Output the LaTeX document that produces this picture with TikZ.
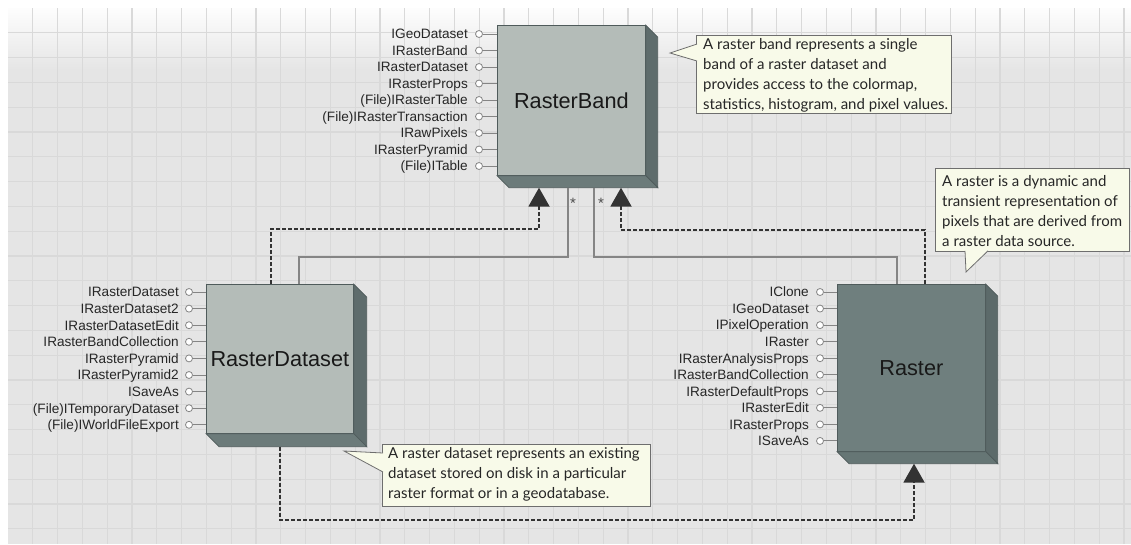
\documentclass[tikz,border=0pt]{standalone}
\usepackage{fontspec}
\setmainfont{Liberation Sans}
\newfontfamily\notefont{Lato}
\usetikzlibrary{arrows.meta,calc}

\definecolor{gridbg}{HTML}{E5E5E5}
\definecolor{gridln}{HTML}{D9D9D9}
\definecolor{lightface}{HTML}{B4BCB8}
\definecolor{lightside}{HTML}{5E6C6C}
\definecolor{lightbottom}{HTML}{6C7B7A}
\definecolor{darkface}{HTML}{6F7F7E}
\definecolor{darkside}{HTML}{5C6A6A}
\definecolor{darkbottom}{HTML}{667675}
\definecolor{boxedge}{HTML}{4F5B5B}
\definecolor{notefill}{HTML}{F8FAE9}
\definecolor{noteedge}{HTML}{6E6E6E}
\definecolor{wire}{HTML}{858585}
\definecolor{dashclr}{HTML}{333333}
\definecolor{ifacetext}{HTML}{262626}

% side and bottom faces that give a class box its depth
\newcommand{\castdepth}[4]{%
  \filldraw[fill=#2, draw=boxedge, line width=0.7pt]
    (#1.north east) -- ++(#4,#4) -- ($(#1.south east)+(#4,#4)$) -- (#1.south east) -- cycle;
  \filldraw[fill=#3, draw=boxedge, line width=0.7pt]
    (#1.south west) -- ++(#4,#4) -- ($(#1.south east)+(#4,#4)$) -- (#1.south east) -- cycle;
}

\tikzset{
  classbox/.style={draw=boxedge, line width=0.7pt, inner sep=0pt, anchor=north west,
    text=black!90, font=\fontsize{21.7}{26}\selectfont},
  ifacelabel/.style={anchor=east, inner sep=0pt, text height=9.6pt, text depth=0pt,
    text=ifacetext, font=\fontsize{13.6}{16}\selectfont},
  lolly/.style={circle, draw=wire, fill=white, line width=0.8pt, inner sep=0pt, minimum size=7pt},
  stub/.style={draw=wire, line width=1pt},
  assoc/.style={draw=wire, line width=1.2pt},
  realize/.style={draw=dashclr, line width=2pt, dash pattern=on 4pt off 2pt,
    -{Triangle[length=19pt,width=21pt]}},
  mult/.style={inner sep=0pt, text=black!70, font=\fontsize{15}{16}\selectfont},
  notebox/.style={draw=noteedge, fill=notefill, line width=0.8pt, inner sep=0pt, anchor=north west},
  notetext/.style={anchor=north west, inner sep=0pt, align=left, text=black!85,
    font=\notefont\fontsize{15}{20}\selectfont},
  pointer/.style={fill=notefill, draw=noteedge, line width=0.8pt},
}

\begin{document}
\begin{tikzpicture}[x=1pt, y=-1pt]
\useasboundingbox (0,0) rectangle (1131,544);

% backdrop with a fine grid
\fill[white] (0,0) rectangle (1131,544);
\fill[gridbg] (8,8) rectangle (1131,544);
\shade[top color=white!93!gridbg, bottom color=gridbg] (8,8) rectangle (1131,70);
\foreach \k in {1,...,45} {
  \draw[gridln, line width=1.3pt] ({8+24.8*\k},8) -- ({8+24.8*\k},544);
}
\foreach \k in {1,...,21} {
  \draw[gridln, line width=1.3pt] (8,{8+24.8*\k}) -- (1131,{8+24.8*\k});
}

% class boxes
\node[classbox, fill=lightface, minimum width=148pt, minimum height=150pt] (rb) at (497,25) {RasterBand};
\castdepth{rb}{lightside}{lightbottom}{12}
\node[classbox, fill=lightface, minimum width=147pt, minimum height=149pt] (rd) at (206,284) {RasterDataset};
\castdepth{rd}{lightside}{lightbottom}{13}
\node[classbox, fill=darkface, minimum width=148pt, minimum height=167pt] (ra) at (837,284) {Raster};
\castdepth{ra}{darkside}{darkbottom}{12}

% interfaces of RasterBand
\foreach \t [count=\i] in {IGeoDataset, IRasterBand, IRasterDataset, IRasterProps,
    (File)IRasterTable, (File)IRasterTransaction, IRawPixels, IRasterPyramid, (File)ITable} {
  \pgfmathsetmacro{\yy}{34+16.5*(\i-1)}
  \node[ifacelabel] (rbL\i) at (468,\yy) {\t};
  \node[lolly] (rbP\i) at (479,\yy) {};
  \draw[stub] (rbP\i.east) -- (rbP\i -| rb.west);
}

% interfaces of RasterDataset
\foreach \t [count=\i] in {IRasterDataset, IRasterDataset2, IRasterDatasetEdit,
    IRasterBandCollection, IRasterPyramid, IRasterPyramid2, ISaveAs,
    (File)ITemporaryDataset, (File)IWorldFileExport} {
  \pgfmathsetmacro{\yy}{292+16.6*(\i-1)}
  \node[ifacelabel] (rdL\i) at (179,\yy) {\t};
  \node[lolly] (rdP\i) at (189,\yy) {};
  \draw[stub] (rdP\i.east) -- (rdP\i -| rd.west);
}

% interfaces of Raster
\foreach \t [count=\i] in {IClone, IGeoDataset, IPixelOperation, IRaster,
    IRasterAnalysisProps, IRasterBandCollection, IRasterDefaultProps, IRasterEdit,
    IRasterProps, ISaveAs} {
  \pgfmathsetmacro{\yy}{292+16.55*(\i-1)}
  \node[ifacelabel] (raL\i) at (809,\yy) {\t};
  \node[lolly] (raP\i) at (820,\yy) {};
  \draw[stub] (raP\i.east) -- (raP\i -| ra.west);
}

% relationships
\draw[assoc] ($(rd.north west)+(93,0)$) -- ++(0,-27) -| ($(rb.south west)+(71,12)$);
\draw[assoc] ($(ra.north west)+(60,0)$) -- ++(0,-27) -| ($(rb.south west)+(97,12)$);
\node[mult] (m1) at ($(rb.south west)+(76,28)$) {*};
\node[mult] (m2) at ($(rb.south west)+(104,28)$) {*};
\draw[realize] ($(rd.north west)+(65,0)$) -- ++(0,-55) -| ($(rb.south west)+(42,12)$);
\draw[realize] ($(ra.north west)+(88,0)$) -- ++(0,-54) -| ($(rb.south west)+(124,12)$);
\draw[realize] ($(rd.south west)+(74,13)$) -- ++(0,73) -| ($(ra.south west)+(77,12)$);

% notes
\node[notebox, minimum width=255pt, minimum height=78pt] (n1) at (696,35) {};
\coordinate (n1tip) at (670,53);
\filldraw[pointer] ($(n1.north west)+(1,9)$) -- (n1tip) -- ($(n1.north west)+(1,26)$);
\node[notetext] (n1t) at (703,38.5) {A raster band represents a single\\band of a raster dataset and\\provides access to the colormap,\\statistics, histogram, and pixel values.};

\node[notebox, minimum width=194pt, minimum height=83pt] (n2) at (935,168) {};
\coordinate (n2tip) at (966,272);
\filldraw[pointer] ($(n2.south west)+(30,-1)$) -- (n2tip) -- ($(n2.south west)+(53,-1)$);
\node[notetext] (n2t) at (942,175.5) {A raster is a dynamic and\\transient representation of\\pixels that are derived from\\a raster data source.};

\node[notebox, minimum width=268pt, minimum height=62pt] (n3) at (382,444) {};
\coordinate (n3tip) at (344,451);
\filldraw[pointer] ($(n3.north west)+(1,9)$) -- (n3tip) -- ($(n3.north west)+(1,28)$);
\node[notetext] (n3t) at (388,447.5) {A raster dataset represents an existing\\dataset stored on disk in a particular\\raster format or in a geodatabase.};

\end{tikzpicture}
\end{document}
